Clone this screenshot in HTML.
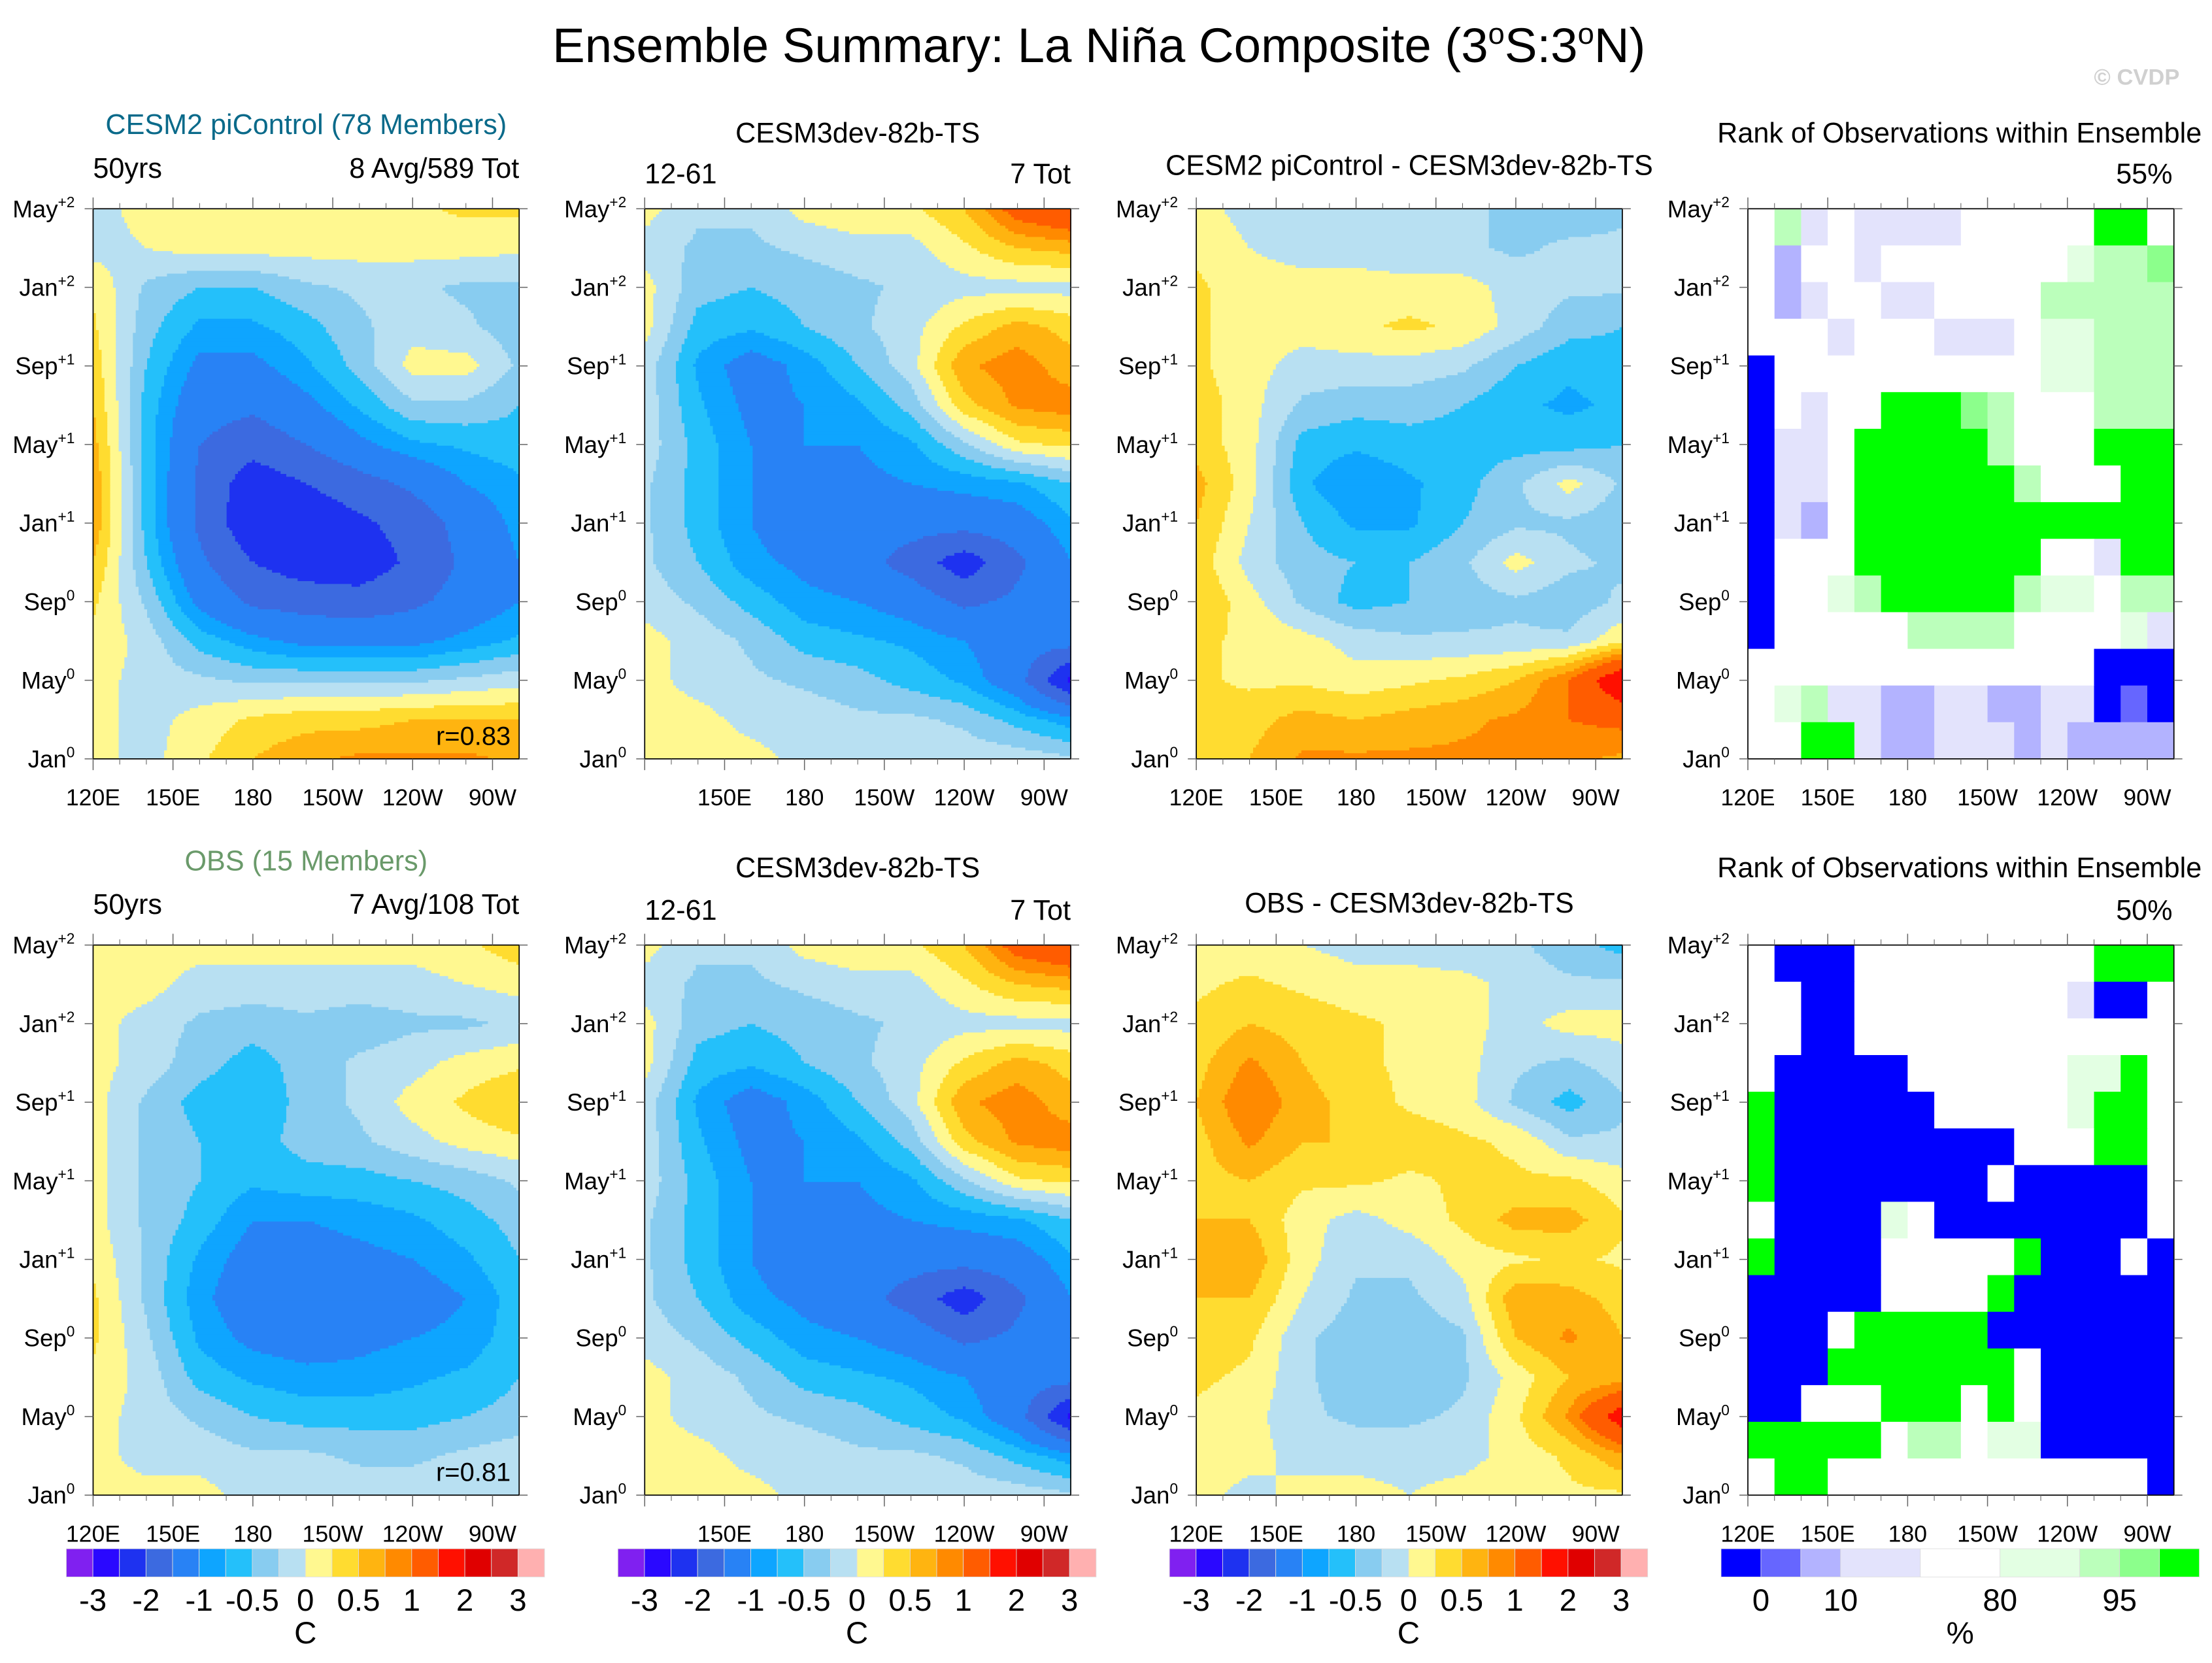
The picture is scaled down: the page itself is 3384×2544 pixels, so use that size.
<!DOCTYPE html>
<html><head><meta charset="utf-8"><title>Ensemble Summary: La Niña Composite</title>
<style>
html,body{margin:0;padding:0;background:#fff;}
svg{display:block;font-family:"Liberation Sans",sans-serif;}
</style></head>
<body>
<svg id="fig" xmlns="http://www.w3.org/2000/svg" width="3384" height="2544" viewBox="0 0 1568 1179" preserveAspectRatio="none">
<text x="779" y="44" font-size="34.5" text-anchor="middle">Ensemble Summary: La Niña Composite (3<tspan font-size="21" dy="-13">o</tspan><tspan dy="13">S:3</tspan><tspan font-size="21" dy="-13">o</tspan><tspan dy="13">N)</tspan></text>
<text x="1545" y="60" font-size="16" font-weight="bold" fill="#d0d0d0" text-anchor="end">© CVDP</text>
</svg>
<script>
// ---- data ----
const levels = [-3,-2.5,-2,-1.5,-1,-0.75,-0.5,-0.25,0,0.25,0.5,0.75,1,1.5,2,2.5,3];
const colors = ["#8020f0","#2a08ff","#1e32f0","#3c6ae0","#2882f5","#0ea5ff","#24c0fa","#88ccf0","#b8e0f2","#fff890","#ffdc30","#ffb410","#ff8a00","#ff5c00","#ff1000","#e00000","#d02828","#ffb0b0"];
const cbLabels = ["-3","-2","-1","-0.5","0","0.5","1","2","3"];
const rankColors = ["#0000ff","#6666ff","#b3b3ff","#e3e3fc","#ffffff","#e3ffe3","#bbffbb","#8cff8c","#00ff00"];
const rankWidths = [1,1,1,2,2,2,1,1,1];
const rankLabels = ["0","10","80","95"];
const timeLabels = [["May","+2"],["Jan","+2"],["Sep","+1"],["May","+1"],["Jan","+1"],["Sep","0"],["May","0"],["Jan","0"]];
const lonLabels = ["120E","150E","180","150W","120W","90W"];
// rows: May+2 (top) ... Jan0 (bottom), every 2 months; cols 120E..80W every 20 deg
const cesm2 = [
[-0.1,0.1,0.2,0.2,0.2,0.2,0.2,0.3,0.3],
[-0.1,0.0,0.1,0.1,0.1,0.1,0.1,0.1,0.05],
[0.2,-0.3,-0.5,-0.5,-0.3,-0.2,-0.2,-0.3,-0.3],
[0.3,-0.4,-0.8,-0.8,-0.6,-0.3,-0.1,-0.2,-0.4],
[0.4,-0.5,-1.1,-1.1,-0.8,-0.4,0.1,0.1,-0.3],
[0.5,-0.6,-1.3,-1.4,-1.1,-0.7,-0.3,-0.3,-0.5],
[0.6,-0.6,-1.5,-1.8,-1.5,-1.1,-0.8,-0.7,-0.6],
[0.7,-0.6,-1.6,-2.3,-2.0,-1.7,-1.4,-1.0,-0.8],
[0.7,-0.6,-1.6,-2.4,-2.4,-2.1,-1.8,-1.3,-0.9],
[0.5,-0.5,-1.4,-2.0,-2.3,-2.3,-1.9,-1.4,-1.0],
[0.3,-0.3,-1.1,-1.6,-1.7,-1.8,-1.6,-1.3,-1.0],
[0.2,-0.1,-0.6,-0.9,-1.1,-1.1,-1.1,-0.9,-0.7],
[0.1,-0.1,-0.2,-0.3,-0.3,-0.3,-0.3,-0.2,-0.1],
[0.1,-0.1,0.1,0.3,0.4,0.4,0.5,0.5,0.5],
[0.1,-0.1,0.2,0.5,0.7,0.8,0.8,0.8,0.7]];
const cesm3 = [
[0.1,-0.2,-0.2,0.1,0.2,0.2,0.5,1.2,1.5],
[-0.1,-0.3,-0.3,-0.2,-0.1,-0.1,0.2,0.5,0.6],
[0.1,-0.4,-0.5,-0.4,-0.3,-0.2,-0.1,-0.1,-0.1],
[0.1,-0.6,-0.7,-0.5,-0.3,-0.1,0.3,0.6,0.4],
[-0.1,-0.8,-1.2,-0.9,-0.5,-0.1,0.7,0.9,0.6],
[-0.1,-0.7,-1.1,-1.0,-0.8,-0.4,0.4,0.8,0.9],
[-0.1,-0.6,-1.0,-1.0,-1.0,-0.8,-0.3,0.2,0.3],
[-0.2,-0.6,-1.0,-1.1,-1.1,-1.0,-0.9,-0.8,-0.5],
[-0.2,-0.6,-1.0,-1.3,-1.3,-1.3,-1.3,-1.2,-0.8],
[-0.2,-0.5,-0.9,-1.1,-1.3,-1.7,-2.3,-1.6,-1.0],
[-0.1,-0.3,-0.6,-0.9,-1.0,-1.2,-1.6,-1.4,-1.0],
[0.1,-0.1,-0.3,-0.6,-0.7,-0.8,-1.0,-1.3,-1.3],
[0.1,-0.1,-0.2,-0.3,-0.4,-0.6,-0.8,-1.3,-2.6],
[0.1,0.1,-0.1,-0.1,-0.2,-0.2,-0.3,-0.6,-0.9],
[0.1,0.2,0.1,-0.1,-0.1,-0.1,-0.1,-0.1,-0.2]];
const diffTop = [
[0.1,-0.1,-0.1,-0.1,-0.2,-0.2,-0.3,-0.4,-0.3],
[0.2,0.0,-0.1,-0.1,-0.2,-0.2,-0.3,-0.2,-0.2],
[0.3,0.1,0.1,0.1,0.1,0.1,-0.1,-0.2,-0.2],
[0.3,0.1,0.1,0.2,0.3,0.2,-0.1,-0.4,-0.5],
[0.3,0.1,-0.1,-0.1,-0.1,-0.2,-0.5,-0.7,-0.6],
[0.4,0.1,-0.3,-0.4,-0.4,-0.5,-0.7,-0.8,-0.7],
[0.4,0.1,-0.6,-0.7,-0.6,-0.6,-0.6,-0.6,-0.5],
[0.6,0.1,-0.7,-1.0,-0.8,-0.6,-0.3,0.1,-0.3],
[0.5,0.0,-0.5,-0.8,-0.8,-0.5,-0.3,-0.3,-0.4],
[0.4,-0.1,-0.4,-0.5,-0.5,-0.3,0.1,-0.2,-0.3],
[0.5,0.1,-0.3,-0.6,-0.5,-0.4,-0.3,-0.4,-0.2],
[0.3,0.2,0.1,-0.1,-0.2,-0.2,-0.2,-0.2,0.2],
[0.3,0.2,0.2,0.1,0.2,0.3,0.5,1.0,2.0],
[0.3,0.4,0.6,0.5,0.6,0.7,0.8,1.0,1.1],
[0.3,0.5,0.8,0.8,0.8,0.8,0.8,0.8,0.7]];
const obs = [
[0.1,0.1,0.1,0.1,0.1,0.1,0.1,0.2,0.4],
[0.1,0.1,-0.1,-0.1,-0.1,-0.1,-0.1,0.0,0.1],
[0.1,-0.1,-0.3,-0.4,-0.3,-0.4,-0.3,-0.3,-0.2],
[0.1,-0.1,-0.4,-0.6,-0.4,-0.2,-0.1,0.1,0.2],
[0.1,-0.3,-0.6,-0.7,-0.4,-0.2,0.1,0.3,0.5],
[0.1,-0.3,-0.5,-0.6,-0.4,-0.3,-0.1,0.1,0.2],
[0.1,-0.3,-0.5,-0.7,-0.6,-0.6,-0.5,-0.4,-0.2],
[0.1,-0.3,-0.6,-1.0,-1.0,-0.9,-0.8,-0.6,-0.4],
[0.2,-0.3,-0.8,-1.2,-1.2,-1.1,-1.0,-0.8,-0.5],
[0.3,-0.3,-0.9,-1.3,-1.4,-1.3,-1.2,-1.0,-0.6],
[0.3,-0.2,-0.8,-1.1,-1.2,-1.1,-1.0,-0.9,-0.6],
[0.2,-0.1,-0.6,-0.8,-0.9,-0.9,-0.8,-0.7,-0.5],
[0.1,-0.1,-0.3,-0.5,-0.6,-0.6,-0.6,-0.5,-0.4],
[0.1,-0.1,-0.1,-0.2,-0.2,-0.3,-0.3,-0.2,-0.1],
[0.1,0.1,0.1,-0.1,-0.1,-0.1,-0.1,-0.1,0.0]];
const diffBot = [
[0.1,0.1,0.0,-0.1,-0.1,-0.2,-0.2,-0.4,-0.6],
[0.2,0.3,0.2,0.1,0.1,0.1,-0.1,-0.2,-0.2],
[0.3,0.5,0.4,0.3,0.2,0.1,-0.1,0.1,0.1],
[0.4,0.8,0.5,0.3,0.2,0.1,-0.2,-0.3,-0.1],
[0.5,1.0,0.6,0.4,0.2,0.1,-0.3,-0.6,-0.3],
[0.4,0.8,0.5,0.5,0.4,0.3,0.2,-0.2,-0.2],
[0.4,0.5,0.3,0.3,0.2,0.3,0.3,0.3,0.1],
[0.5,0.5,0.1,-0.1,0.1,0.3,0.6,0.6,0.3],
[0.6,0.7,0.1,-0.2,-0.2,0.1,0.2,0.3,0.2],
[0.5,0.5,0.0,-0.3,-0.3,-0.1,0.7,0.6,0.4],
[0.4,0.3,-0.2,-0.4,-0.4,-0.3,0.5,0.8,0.5],
[0.3,0.2,-0.2,-0.4,-0.5,-0.3,0.1,0.5,0.6],
[0.2,0.1,-0.2,-0.3,-0.3,-0.2,0.2,0.8,1.8],
[0.2,0.1,-0.1,-0.1,-0.1,-0.1,0.1,0.3,0.7],
[0.1,-0.1,0.1,0.1,0.0,0.1,0.2,0.2,0.2]];
// rank categories (index into rankColors), 16 cols x 15 rows
const rankTop = ["4634333344444884","4244344444445667","4234433444466666","4443444333455666","0444444444455666","0434488876444666","0334888886444888","0334888888644488","0324888888888888","0444888888844388","0445688888655466","0444446666444453","4444444444444000","4563322332233010","4488322333232222"];
const rankBot = ["4000444444444888","4400444444443004","4400444444444444","4000004444445584","8000000444445884","8000000000444884","8000000004000004","4000054000000004","8000044444800040","0000044448000000","0004888880000000","0008888888400000","0044488848400000","8888846645500000","4884444444444440"];

const NS = "http://www.w3.org/2000/svg";
const svg = document.getElementById('fig');
const PW = 302, PH = 390;
function mk(tag, attrs, parent){const e=document.createElementNS(NS,tag);for(const k in attrs)e.setAttribute(k,attrs[k]);(parent||svg).appendChild(e);return e;}
function txt(s, x, y, size, anchor, fill, parent){const t=mk('text',{x:x,y:y,'font-size':size,'text-anchor':anchor||'start',fill:fill||'#000'},parent);t.textContent=s;return t;}
function colorIdx(v){let i=0;while(i<levels.length&&v>=levels[i])i++;return i;}
function sample(g,gx,gy){const r=g.length,c=g[0].length;const x0=Math.min(Math.floor(gx),c-2),y0=Math.min(Math.floor(gy),r-2);const fx=gx-x0,fy=gy-y0;
 return g[y0][x0]*(1-fx)*(1-fy)+g[y0][x0+1]*fx*(1-fy)+g[y0+1][x0]*(1-fx)*fy+g[y0+1][x0+1]*fx*fy;}

function drawContour(g, px, py, name){
  const grp=mk('g',{});
  
  
  const NX=150, NY=195, cw=PW/NX, ch=PH/NY;
  const rows=g.length, cols=g[0].length;
  for(let j=0;j<NY;j++){
    const gy=(j+0.5)/NY*(rows-1);
    let start=0, cur=-1;
    for(let i=0;i<=NX;i++){
      let ci=-1;
      if(i<NX){const gx=(i+0.5)/NX*(cols-1);ci=colorIdx(sample(g,gx,gy));}
      if(ci!==cur){
        if(cur>=0){
          const r=mk('rect',{x:px+start*cw,y:py+j*ch,width:(i-start)*cw+0.3,height:ch+0.3,fill:colors[cur]},grp);
          
          
        }
        start=i;cur=ci;
      }
    }
  }
}
function drawRank(g, px, py, name){
  const grp=mk('g',{});
  
  
  const rows=g.length, cols=g[0].length, cw=PW/cols, ch=PH/rows;
  for(let j=0;j<rows;j++){
    let start=0,cur=g[j][0];
    for(let i=1;i<=cols;i++){
      const c=i<cols?g[j][i]:null;
      if(c!==cur){
        const r=mk('rect',{x:px+start*cw,y:py+j*ch,width:(i-start)*cw+0.3,height:ch+0.3,fill:rankColors[+cur]},grp);
        
        
        start=i;cur=c;
      }
    }
  }
}
function axes(px, py, showFirstLon){
  const f=mk('rect',{x:px,y:py,width:PW,height:PH,fill:'none',stroke:'#000','stroke-width':0.8});
  
  
  const step=PH/7;
  timeLabels.forEach((lab,k)=>{
    const y=py+k*step;
    mk('line',{x1:px-6,x2:px,y1:y,y2:y,stroke:'#666','stroke-width':0.7});
    mk('line',{x1:px+PW,x2:px+PW+6,y1:y,y2:y,stroke:'#666','stroke-width':0.7});
    const t=mk('text',{x:px-13,y:y+6,'font-size':17,'text-anchor':'end'});
    
    
    const a=document.createElementNS(NS,'tspan');a.textContent=lab[0];t.appendChild(a);
    const b=document.createElementNS(NS,'tspan');b.setAttribute('font-size','10.5');b.setAttribute('dy','-7');b.textContent=lab[1];t.appendChild(b);
  });
  const dx=PW/160*30;
  lonLabels.forEach((s,k)=>{
    const x=px+k*dx;
    mk('line',{x1:x,x2:x,y1:py-8,y2:py,stroke:'#666','stroke-width':0.7});
    mk('line',{x1:x,x2:x,y1:py+PH,y2:py+PH+8,stroke:'#666','stroke-width':0.7});
    if(k>0||showFirstLon){
      const t=txt(s,x,py+PH+33,16.5,'middle');
      
      
    }
  });
  for(let m=0;m<16;m++){const x=px+m*dx/3; if(m%3) {mk('line',{x1:x,x2:x,y1:py-4,y2:py,stroke:'#666','stroke-width':0.5});mk('line',{x1:x,x2:x,y1:py+PH,y2:py+PH+4,stroke:'#666','stroke-width':0.5});}}
}
function tempColorbar(x0, y0){
  const w=339/colors.length;
  colors.forEach((c,i)=>{
    const r=mk('rect',{x:x0+i*w,y:y0,width:w,height:20,fill:c,stroke:'#ddd','stroke-width':0.4});
    
    
  });
  cbLabels.forEach((s,k)=>{
    const t=txt(s,x0+(2*k+1)*w,y0+44,22,'middle');
    
    
  });
  const u=txt('C',x0+9*w,y0+67,22,'middle');
  
  
}
function rankColorbar(x0,y0){
  const W=339, tot=rankWidths.reduce((a,b)=>a+b,0); let x=x0; const edges=[];
  rankColors.forEach((c,i)=>{
    const w=W*rankWidths[i]/tot;
    const r=mk('rect',{x:x,y:y0,width:w,height:20,fill:c,stroke:'#ddd','stroke-width':0.4});
    
    
    x+=w; edges.push(x);
  });
  rankLabels.forEach((s,k)=>{
    const t=txt(s,edges[2*k],y0+44,22,'middle');
    
    
  });
  const u=txt('%',x0+W/2,y0+67,22,'middle');
  
  
}
function label(s,x,y,size,anchor,fill,name){const t=txt(s,x,y,size,anchor,fill);return t;}

const X=[66,457,848,1239], YT=148, YB=670;
drawContour(cesm2,X[0],YT,'cesm2-composite');
drawContour(cesm3,X[1],YT,'cesm3dev-composite-top');
drawContour(diffTop,X[2],YT,'difference-cesm2-top');
drawRank(rankTop,X[3],YT,'rank-map-top');
drawContour(obs,X[0],YB,'obs-composite');
drawContour(cesm3,X[1],YB,'cesm3dev-composite-bottom');
drawContour(diffBot,X[2],YB,'difference-obs-bottom');
drawRank(rankBot,X[3],YB,'rank-map-bottom');
axes(X[0],YT,true);axes(X[1],YT,false);axes(X[2],YT,true);axes(X[3],YT,true);
axes(X[0],YB,true);axes(X[1],YB,false);axes(X[2],YB,true);axes(X[3],YB,true);

label('CESM2 piControl (78 Members)',217,95,20,'middle','#0a6a8a','panel-title-cesm2');
label('50yrs',66,126,20,'start','#000','years-label');
label('8 Avg/589 Tot',368,126,20,'end','#000','count-label');
label('r=0.83',362,528,18.5,'end','#000','correlation-label');
label('CESM3dev-82b-TS',608,101,20,'middle','#000','panel-title-cesm3');
label('12-61',457,130,20,'start','#000','years-label');
label('7 Tot',759,130,20,'end','#000','count-label');
label('CESM2 piControl - CESM3dev-82b-TS',999,124,20,'middle','#000','panel-title-diff');
label('Rank of Observations within Ensemble',1389,101,20,'middle','#000','panel-title-rank');
label('55%',1540,130,20,'end','#000','rank-percent');

label('OBS (15 Members)',217,617,20,'middle','#6a9a6a','panel-title-obs');
label('50yrs',66,648,20,'start','#000','years-label');
label('7 Avg/108 Tot',368,648,20,'end','#000','count-label');
label('r=0.81',362,1050,18.5,'end','#000','correlation-label');
label('CESM3dev-82b-TS',608,622,20,'middle','#000','panel-title-cesm3');
label('12-61',457,652,20,'start','#000','years-label');
label('7 Tot',759,652,20,'end','#000','count-label');
label('OBS - CESM3dev-82b-TS',999,647,20,'middle','#000','panel-title-diff');
label('Rank of Observations within Ensemble',1389,622,20,'middle','#000','panel-title-rank');
label('50%',1540,652,20,'end','#000','rank-percent');

tempColorbar(47,1098);tempColorbar(438,1098);tempColorbar(829,1098);rankColorbar(1220,1098);
</script>
</body></html>
